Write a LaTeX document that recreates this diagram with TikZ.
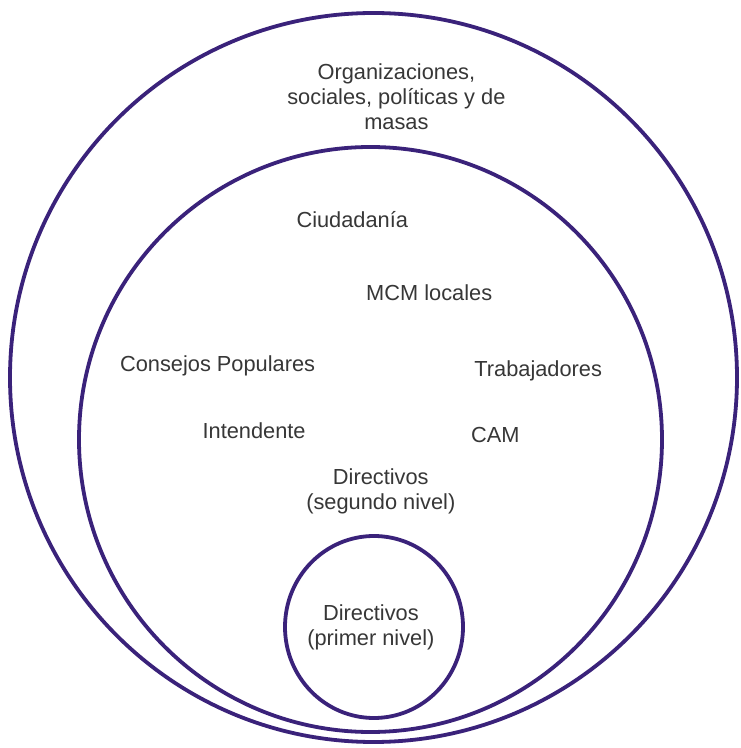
\documentclass[tikz,border=0pt]{standalone}
\usepackage{fontspec}
\setmainfont{Liberation Sans}
\definecolor{ring}{RGB}{58,34,122}
\definecolor{txt}{RGB}{55,55,55}
\begin{document}
\begin{tikzpicture}[x=1pt,y=1pt,
  ringline/.style={draw=ring,line width=3.8pt},
  lbl/.style={text=txt,align=center,inner sep=0pt,font=\fontsize{21.8}{25}\selectfont}]
\useasboundingbox (0,0) rectangle (740,748);
\fill[white] (0,0) rectangle (740,748);
\draw[ringline] (373.5,370.5) ellipse [x radius=363.5, y radius=364.5];
\draw[ringline] (370.5,308.5) ellipse [x radius=291.5, y radius=292.5];
\draw[ringline] (374,121) ellipse [x radius=89, y radius=91];
\node[lbl] (org) at (396.4,651) {Organizaciones,\\sociales, políticas y de\\masas};
\node[lbl] (ciu) at (352.3,528) {Ciudadanía};
\node[lbl] (mcm) at (429.2,455) {MCM locales};
\node[lbl] (cons) at (217.6,382) {Consejos Populares};
\node[lbl] (trab) at (538.2,377) {Trabajadores};
\node[lbl] (int) at (254.1,317) {Intendente};
\node[lbl] (cam) at (495.3,313) {CAM};
\node[lbl] (dir2) at (380.8,257) {Directivos\\(segundo nivel)};
\node[lbl] (dir1) at (370.9,121) {Directivos\\(primer nivel)};
\end{tikzpicture}
\end{document}
